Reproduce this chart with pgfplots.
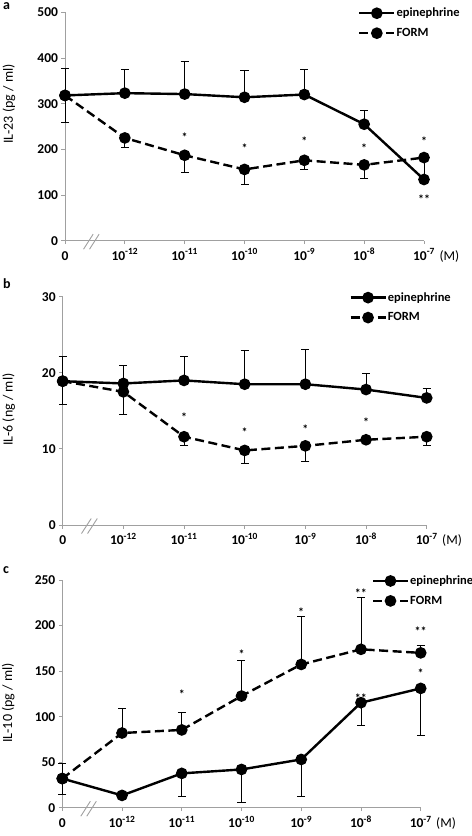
\documentclass[border=0pt]{standalone}
\usepackage{fontspec}
\setmainfont{Carlito}
\usepackage{pgfplots}
\pgfplotsset{compat=1.18}
\definecolor{axgray}{HTML}{A0A0A0}
\newcommand{\fs}{\fontsize{13.5bp}{15bp}\selectfont}
\newcommand{\fl}{\fontsize{14bp}{16bp}\selectfont}
\pgfplotsset{
  panel/.style={
    scale only axis, xmin=0, xmax=6, ymin=0, clip=false,
    axis x line*=bottom, axis y line*=left,
    axis line style={draw=axgray, line width=0.9bp, -},
    tick style={draw=axgray, line width=0.9bp},
    tick align=outside, major tick length=3.5bp,
    xtick={0,1,2,3,4,5,6},
    xticklabels={0,10\textsuperscript{-12},10\textsuperscript{-11},10\textsuperscript{-10},10\textsuperscript{-9},10\textsuperscript{-8},10\textsuperscript{-7}},
    /pgf/number format/assume math mode=true,
    ticklabel style={font=\fs\bfseries},
    xticklabel style={anchor=base, yshift=-16bp},
    legend style={draw=none, fill=none, font=\fontsize{12.5bp}{14bp}\selectfont\bfseries, anchor=north west, row sep=6bp, inner sep=0pt, nodes={inner xsep=1bp}},
    legend cell align=left,
    legend image code/.code={\draw[mark repeat=2, mark phase=2, #1] plot coordinates {(0bp,0bp) (17.5bp,0bp) (35bp,0bp)};},
  },
  epi/.style={black, line width=2.4bp, mark=*, mark size=4.6bp, mark options={solid},
     error bars/.cd, y dir=both, y explicit, error bar style={line width=0.9bp, solid}, error mark options={rotate=90, line width=0.9bp, mark size=4bp, solid}},
  form/.style={black, line width=2.4bp, dash pattern=on 9bp off 4.5bp, mark=*, mark size=4.6bp, mark options={solid},
     error bars/.cd, y dir=both, y explicit, error bar style={line width=0.9bp, solid}, error mark options={rotate=90, line width=0.9bp, mark size=4bp, solid}},
  stars/.style={only marks, mark=none, nodes near coords, point meta=explicit symbolic, forget plot,
     every node near coord/.style={anchor=base, yshift=-6.5bp, font=\fontsize{12bp}{13bp}\selectfont\bfseries, inner sep=0pt}},
}
\begin{document}
\begin{tikzpicture}
\path[use as bounding box] (0,0) rectangle (472bp,-836bp);
% ---------------- panel a
\begin{axis}[panel, at={(65bp,-240.7bp)}, anchor=south west, width=359bp, height=228.4bp,
  ymax=500, ytick={0,100,...,500},
  every axis y label/.style={at={(axis description cs:0,0.598)}, xshift=-56bp, rotate=90, anchor=center, font=\fl},
  ylabel={IL-23 (pg / ml)},
  legend style={at={(axis description cs:0.816,1.028)}}]
\addplot[epi] coordinates {
 (0,318) += (0,59) -= (0,60)
 (1,323) += (0,51) -= (0,0)
 (2,321) += (0,72) -= (0,0)
 (3,314) += (0,58) -= (0,0)
 (4,320) += (0,55) -= (0,0)
 (5,255) += (0,31) -= (0,0)
 (6,134) += (0,0) -= (0,0)
};
\addlegendentry{epinephrine}
\addplot[form] coordinates {
 (0,318) += (0,0) -= (0,0)
 (1,225) += (0,0) -= (0,21)
 (2,187) += (0,0) -= (0,38)
 (3,156) += (0,0) -= (0,32)
 (4,176) += (0,0) -= (0,21)
 (5,166) += (0,0) -= (0,29)
 (6,182) += (0,0) -= (0,42)
};
\addlegendentry{FORM}
\addplot[stars] table[meta=t] {
x y t
2 231 *
3 207 *
4 223 *
5 207 *
6 222 *
6 96 **
};
\draw[axgray, line width=0.9bp] ([yshift=-8.5bp]axis cs:0.31,0) -- ([yshift=6.5bp]axis cs:0.47,0);
\draw[axgray, line width=0.9bp] ([yshift=-8.5bp]axis cs:0.41,0) -- ([yshift=6.5bp]axis cs:0.57,0);
\node[font=\fs, anchor=base west] at ([xshift=12bp, yshift=-19.5bp]axis cs:6,0) {(M)};
\end{axis}
% ---------------- panel b
\begin{axis}[panel, at={(62.7bp,-525bp)}, anchor=south west, width=364bp, height=228.3bp,
  ymax=30, ytick={0,10,20,30},
  every axis y label/.style={at={(axis description cs:0,0.505)}, xshift=-54bp, rotate=90, anchor=center, font=\fl},
  ylabel={IL-6 (ng / ml)},
  legend style={at={(axis description cs:0.787,1.028)}}]
\addplot[epi] coordinates {
 (0,18.9) += (0,3.2) -= (0,3.0)
 (1,18.6) += (0,2.4) -= (0,0)
 (2,19.0) += (0,3.2) -= (0,0)
 (3,18.5) += (0,4.4) -= (0,0)
 (4,18.5) += (0,4.6) -= (0,0)
 (5,17.8) += (0,2.1) -= (0,0)
 (6,16.7) += (0,1.2) -= (0,0)
};
\addlegendentry{epinephrine}
\addplot[form] coordinates {
 (0,18.9) += (0,0) -= (0,0)
 (1,17.5) += (0,0) -= (0,3.0)
 (2,11.6) += (0,0) -= (0,1.1)
 (3,9.8) += (0,0) -= (0,1.7)
 (4,10.4) += (0,0) -= (0,2.0)
 (5,11.2) += (0,0) -= (0,0.5)
 (6,11.6) += (0,0) -= (0,1.2)
};
\addlegendentry{FORM}
\addplot[stars] table[meta=t] {
x y t
2 14.5 *
3 12.5 *
4 12.9 *
5 13.8 *
};
\draw[axgray, line width=0.9bp] ([yshift=-8.5bp]axis cs:0.31,0) -- ([yshift=6.5bp]axis cs:0.47,0);
\draw[axgray, line width=0.9bp] ([yshift=-8.5bp]axis cs:0.41,0) -- ([yshift=6.5bp]axis cs:0.57,0);
\node[font=\fs, anchor=base west] at ([xshift=12bp, yshift=-19.5bp]axis cs:6,0) {(M)};
\end{axis}
% ---------------- panel c
\begin{axis}[panel, at={(62.3bp,-807.7bp)}, anchor=south west, width=358.4bp, height=227.7bp,
  ymax=250, ytick={0,50,...,250},
  every axis y label/.style={at={(axis description cs:0,0.46)}, xshift=-54bp, rotate=90, anchor=center, font=\fl},
  ylabel={IL-10 (pg / ml)},
  legend style={at={(axis description cs:0.863,1.028)}}]
\addplot[epi] coordinates {
 (0,32) += (0,17) -= (0,17)
 (1,13.5) += (0,0) -= (0,0)
 (2,37.7) += (0,0) -= (0,25)
 (3,42) += (0,0) -= (0,36.5)
 (4,53) += (0,0) -= (0,41)
 (5,115.3) += (0,0) -= (0,25)
 (6,131) += (0,0) -= (0,52)
};
\addlegendentry{epinephrine}
\addplot[form] coordinates {
 (0,32) += (0,0) -= (0,0)
 (1,82) += (0,27.4) -= (0,0)
 (2,85.4) += (0,19) -= (0,0)
 (3,122.6) += (0,39) -= (0,0)
 (4,157.3) += (0,53) -= (0,0)
 (5,173.9) += (0,56.7) -= (0,0)
 (6,170) += (0,8) -= (0,0)
};
\addlegendentry{FORM}
\addplot[stars] table[meta=t] {
x y t
2 127 *
3 171 *
4 216.7 *
5 238 **
5 122.6 **
6 196 **
6 150 *
};
\draw[axgray, line width=0.9bp] ([yshift=-8.5bp]axis cs:0.31,0) -- ([yshift=6.5bp]axis cs:0.47,0);
\draw[axgray, line width=0.9bp] ([yshift=-8.5bp]axis cs:0.41,0) -- ([yshift=6.5bp]axis cs:0.57,0);
\node[font=\fs, anchor=base west] at ([xshift=12bp, yshift=-19.5bp]axis cs:6,0) {(M)};
\end{axis}
\node[font=\fontsize{14bp}{16bp}\selectfont\bfseries, anchor=base west] at (-0.5bp,-9bp) {a};
\node[font=\fontsize{14bp}{16bp}\selectfont\bfseries, anchor=base west] at (-0.5bp,-288bp) {b};
\node[font=\fontsize{14bp}{16bp}\selectfont\bfseries, anchor=base west] at (-0.5bp,-573bp) {c};
\end{tikzpicture}
\end{document}
